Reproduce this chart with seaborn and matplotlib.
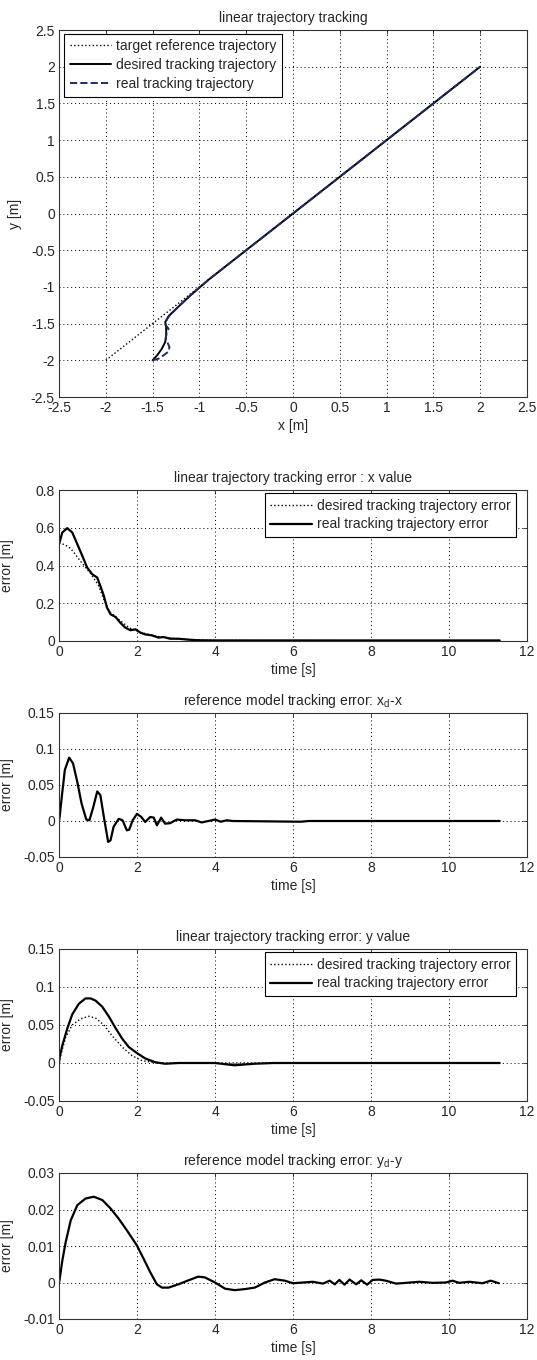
import matplotlib
matplotlib.use("Agg")
import matplotlib.pyplot as plt
import seaborn as sns
from matplotlib.lines import Line2D
from matplotlib.ticker import FuncFormatter, MultipleLocator


# =============================================================================
# Data
# =============================================================================

# Top plot: x/y trajectories [m]
target_x = [-2.0, 2.0]
target_y = [-2.0, 2.0]

desired_x = [-1.50, -1.45, -1.40, -1.365, -1.355, -1.355, -1.365, -1.33,
             -1.25, -1.10, -1.00, -0.90, 2.00]
desired_y = [-2.00, -1.93, -1.84, -1.75, -1.66, -1.55, -1.48, -1.40,
             -1.30, -1.12, -1.01, -0.90, 2.00]

real_x = [-1.50, -1.44, -1.38, -1.33, -1.32, -1.34, -1.36, -1.35, -1.33,
          -1.36, -1.35, -1.32, -1.24, -1.10, -1.00, -0.90, 2.00]
real_y = [-2.00, -1.98, -1.93, -1.88, -1.82, -1.76, -1.70, -1.62, -1.57,
          -1.52, -1.45, -1.39, -1.29, -1.12, -1.01, -0.90, 2.00]

# Tracking error, x value
ex_real_t = [0.0, 0.085, 0.21, 0.34, 0.47, 0.60, 0.72, 0.85, 0.98, 1.06,
             1.15, 1.23, 1.32, 1.45, 1.57, 1.70, 1.83, 1.96, 2.09, 2.21,
             2.38, 2.55, 2.68, 2.85, 3.06, 3.32, 3.57, 4.0, 11.3]
ex_real_v = [0.513, 0.575, 0.598, 0.575, 0.513, 0.45, 0.39, 0.354, 0.336,
             0.292, 0.239, 0.177, 0.142, 0.127, 0.097, 0.071, 0.057, 0.062,
             0.044, 0.035, 0.030, 0.018, 0.021, 0.012, 0.012, 0.007, 0.004,
             0.003, 0.003]
ex_des_t = [0.0, 0.15, 0.30, 0.45, 0.60, 0.80, 1.00, 1.15, 1.30, 1.50,
            1.80, 2.10, 2.50, 3.00, 3.50, 4.00, 11.3]
ex_des_v = [0.52, 0.51, 0.49, 0.45, 0.41, 0.36, 0.30, 0.22, 0.155, 0.12,
            0.07, 0.045, 0.025, 0.012, 0.006, 0.003, 0.0]

# Reference model tracking error x_d - x
rx_t = [0.0, 0.017, 0.07, 0.15, 0.26, 0.36, 0.47, 0.58, 0.70, 0.78, 0.88,
        0.98, 1.06, 1.15, 1.26, 1.32, 1.40, 1.53, 1.63, 1.74, 1.80, 1.89,
        2.00, 2.11, 2.21, 2.34, 2.43, 2.51, 2.62, 2.72, 2.85, 3.02, 3.23,
        3.49, 3.66, 4.00, 4.15, 4.30, 4.45, 6.2, 6.4, 11.3]
rx_v = [0.0, 0.006, 0.033, 0.071, 0.088, 0.080, 0.054, 0.024, 0.002,
        0.001, 0.0195, 0.041, 0.036, 0.0056, -0.029, -0.027, -0.008, 0.003,
        0.001, -0.013, -0.012, 0.001, 0.010, 0.0056, -0.0014, 0.0056,
        0.0047, -0.006, 0.0047, -0.0037, -0.003, 0.002, 0.001, 0.001,
        -0.002, 0.002, -0.001, 0.001, 0.0, -0.001, 0.0, 0.0]

# Tracking error, y value
ey_real_t = [0.0, 0.017, 0.085, 0.21, 0.34, 0.51, 0.68, 0.81, 0.94, 1.11,
             1.28, 1.45, 1.62, 1.79, 2.00, 2.21, 2.47, 2.72, 3.06, 4.00,
             4.50, 5.00, 5.50, 11.3]
ey_real_v = [0.0, 0.0075, 0.023, 0.045, 0.064, 0.078, 0.085, 0.085, 0.082,
             0.074, 0.061, 0.046, 0.032, 0.021, 0.013, 0.006, 0.001, -0.001,
             0.0, 0.0, -0.003, -0.001, 0.0, 0.0]
ey_des_t = [0.0, 0.017, 0.17, 0.34, 0.55, 0.77, 0.94, 1.15, 1.36, 1.62,
            1.87, 2.13, 2.38, 2.64, 11.3]
ey_des_v = [0.0, 0.005, 0.034, 0.050, 0.058, 0.0615, 0.059, 0.050, 0.036,
            0.021, 0.0097, 0.003, 0.001, 0.0, 0.0]

# Reference model tracking error y_d - y
ry_t = [0.0, 0.017, 0.085, 0.17, 0.30, 0.47, 0.68, 0.89, 1.11, 1.32, 1.53,
        1.74, 2.00, 2.17, 2.34, 2.51, 2.64, 2.81, 3.06, 3.32, 3.57, 3.74,
        4.00, 4.26, 4.51, 4.77, 5.02, 5.28, 5.53, 5.79, 6.00, 6.51, 6.77,
        6.94, 7.07, 7.19, 7.32, 7.45, 7.62, 7.75, 7.90, 8.04, 8.21, 8.38,
        8.64, 8.90, 9.24, 9.58, 9.92, 10.09, 10.26, 10.52, 10.86, 11.07,
        11.28]
ry_v = [0.0, 0.0009, 0.006, 0.011, 0.017, 0.0212, 0.023, 0.0235, 0.0226,
        0.0203, 0.0175, 0.0143, 0.0101, 0.0065, 0.0028, -0.0005, -0.0014,
        -0.0014, -0.0005, 0.0006, 0.0016, 0.0014, 0.0, -0.0017, -0.0021,
        -0.0018, -0.0014, 0.0, 0.0009, 0.0005, -0.0002, 0.0002, -0.0003,
        0.0005, -0.0005, 0.0007, -0.0006, 0.0008, -0.0005, 0.0006, -0.0006,
        0.0007, 0.0008, 0.0005, -0.0003, -0.0001, 0.0002, -0.0001, 0.0,
        0.0005, -0.0001, 0.0002, -0.0002, 0.0005, -0.0002]

NAVY = "#1f2d5e"


# =============================================================================
# Style helpers
# =============================================================================

def num_fmt(v, _pos):
    s = f"{v:g}"
    return "0" if s == "-0" else s


def style_axes(ax, xlim, ylim, xstep, ystep):
    ax.set_xlim(*xlim)
    ax.set_ylim(*ylim)
    ax.xaxis.set_major_locator(MultipleLocator(xstep))
    ax.yaxis.set_major_locator(MultipleLocator(ystep))
    ax.xaxis.set_major_formatter(FuncFormatter(num_fmt))
    ax.yaxis.set_major_formatter(FuncFormatter(num_fmt))
    ax.grid(True, color="black", linestyle=(0, (1, 3)), linewidth=0.7)
    ax.tick_params(direction="in", top=True, right=True, length=3,
                   width=0.6, labelsize=10, pad=3)
    for sp in ax.spines.values():
        sp.set_color("#333333")
        sp.set_linewidth(0.8)
        sp.set_visible(True)


def legend_box(ax, handles, labels, **kw):
    leg = ax.legend(handles, labels, fancybox=False, framealpha=1,
                    edgecolor="black", fontsize=10, handlelength=3.0,
                    handletextpad=0.35, labelspacing=0.35, borderpad=0.4,
                    **kw)
    leg.get_frame().set_linewidth(0.8)
    return leg


# =============================================================================
# Figure
# =============================================================================

sns.set_style("white")
plt.rcParams["font.family"] = ["Liberation Sans", "DejaVu Sans"]
plt.rcParams["font.size"] = 10
plt.rcParams["mathtext.fontset"] = "custom"
plt.rcParams["mathtext.rm"] = "Liberation Sans"
plt.rcParams["mathtext.it"] = "Liberation Sans:italic"

fig = plt.figure(figsize=(5.37, 13.6), dpi=100)
H = 1360.0
W = 537.0
L, R = 59, 527
YLAB_X = -0.096


def add_axes(top, bottom):
    return fig.add_axes([L / W, 1 - bottom / H, (R - L) / W, (bottom - top) / H])


# ---- top: trajectory ----
ax1 = add_axes(30, 397)
sns.lineplot(x=target_x, y=target_y, sort=False, estimator=None, ax=ax1,
             color="black", linestyle=":", linewidth=1.0)
sns.lineplot(x=desired_x, y=desired_y, sort=False, estimator=None, ax=ax1,
             color="black", linewidth=1.4)
sns.lineplot(x=real_x, y=real_y, sort=False, estimator=None, ax=ax1,
             color=NAVY, linestyle="--", linewidth=1.4)
style_axes(ax1, (-2.5, 2.5), (-2.5, 2.5), 0.5, 0.5)
ax1.set_title("linear trajectory tracking", fontsize=10, pad=6)
ax1.set_xlabel("x [m]", fontsize=10, labelpad=3)
ax1.set_ylabel("y [m]", fontsize=10)
ax1.yaxis.set_label_coords(-0.079, 0.5)
legend_box(ax1,
           [Line2D([], [], color="black", ls=":", lw=1.0),
            Line2D([], [], color="black", lw=1.4),
            Line2D([], [], color=NAVY, ls="--", lw=1.4)],
           ["target reference trajectory", "desired tracking trajectory",
            "real tracking trajectory"],
           loc="upper left", bbox_to_anchor=(0.011, 0.99), borderaxespad=0)

# ---- x error ----
ax2 = add_axes(490, 641)
sns.lineplot(x=ex_des_t, y=ex_des_v, ax=ax2, color="black",
             linestyle=":", linewidth=1.0)
sns.lineplot(x=ex_real_t, y=ex_real_v, ax=ax2, color="black", linewidth=1.6)
style_axes(ax2, (0, 12), (0, 0.8), 2, 0.2)
ax2.set_title("linear trajectory tracking error : x value", fontsize=10, pad=6)
ax2.set_xlabel("time [s]", fontsize=10, labelpad=3)
ax2.set_ylabel("error [m]", fontsize=10)
ax2.yaxis.set_label_coords(YLAB_X, 0.5)
legend_box(ax2,
           [Line2D([], [], color="black", ls=":", lw=1.0),
            Line2D([], [], color="black", lw=1.6)],
           ["desired tracking trajectory error", "real tracking trajectory error"],
           loc="upper right", bbox_to_anchor=(0.977, 0.98), borderaxespad=0)

# ---- x_d - x ----
ax3 = add_axes(713, 857)
sns.lineplot(x=rx_t, y=rx_v, ax=ax3, color="black", linewidth=1.6)
style_axes(ax3, (0, 12), (-0.05, 0.15), 2, 0.05)
ax3.set_title(r"reference model tracking error: $\mathrm{x_d}$-x", fontsize=10, pad=6)
ax3.set_xlabel("time [s]", fontsize=10, labelpad=3)
ax3.set_ylabel("error [m]", fontsize=10)
ax3.yaxis.set_label_coords(YLAB_X, 0.5)

# ---- y error ----
ax4 = add_axes(949, 1101)
sns.lineplot(x=ey_des_t, y=ey_des_v, ax=ax4, color="black",
             linestyle=":", linewidth=1.0)
sns.lineplot(x=ey_real_t, y=ey_real_v, ax=ax4, color="black", linewidth=1.6)
style_axes(ax4, (0, 12), (-0.05, 0.15), 2, 0.05)
ax4.set_title("linear trajectory tracking error: y value", fontsize=10, pad=6)
ax4.set_xlabel("time [s]", fontsize=10, labelpad=3)
ax4.set_ylabel("error [m]", fontsize=10)
ax4.yaxis.set_label_coords(YLAB_X, 0.5)
legend_box(ax4,
           [Line2D([], [], color="black", ls=":", lw=1.0),
            Line2D([], [], color="black", lw=1.6)],
           ["desired tracking trajectory error", "real tracking trajectory error"],
           loc="upper right", bbox_to_anchor=(0.977, 0.98), borderaxespad=0)

# ---- y_d - y ----
ax5 = add_axes(1173, 1319)
sns.lineplot(x=ry_t, y=ry_v, ax=ax5, color="black", linewidth=1.6)
style_axes(ax5, (0, 12), (-0.01, 0.03), 2, 0.01)
ax5.set_title(r"reference model tracking error: $\mathrm{y_d}$-y", fontsize=10, pad=6)
ax5.set_xlabel("time [s]", fontsize=10, labelpad=3)
ax5.set_ylabel("error [m]", fontsize=10)
ax5.yaxis.set_label_coords(YLAB_X, 0.5)

fig.savefig("out.png", dpi=100)
